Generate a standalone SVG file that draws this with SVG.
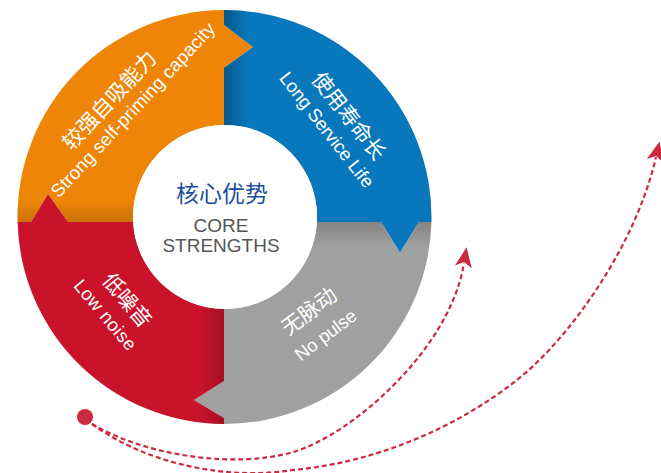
<svg xmlns="http://www.w3.org/2000/svg" width="661" height="473" viewBox="0 0 661 473">
  <defs>
    <style>
      .cn { font-family: "Noto Sans CJK SC", sans-serif; font-size: 21px; fill: #ffffff; text-anchor: middle; dominant-baseline: central; }
      .en { font-family: "Liberation Sans", Arial, sans-serif; font-size: 18.5px; fill: #ffffff; text-anchor: middle; }
      .core-en { font-family: "Liberation Sans", Arial, sans-serif; font-size: 19px; fill: #555555; text-anchor: middle; }
      .flow { fill: none; stroke: #CC2A3E; stroke-width: 2.2; stroke-dasharray: 5 3; marker-end: url(#arrow); }
    </style>
    <linearGradient id="sh-blue" gradientUnits="userSpaceOnUse" x1="224" y1="0" x2="248" y2="0">
      <stop offset="0" stop-color="#000" stop-opacity="0.25"/>
      <stop offset="1" stop-color="#000" stop-opacity="0"/>
    </linearGradient>
    <linearGradient id="sh-gray" gradientUnits="userSpaceOnUse" x1="0" y1="222" x2="0" y2="246">
      <stop offset="0" stop-color="#000" stop-opacity="0.18"/>
      <stop offset="1" stop-color="#000" stop-opacity="0"/>
    </linearGradient>
    <linearGradient id="sh-red" gradientUnits="userSpaceOnUse" x1="224" y1="0" x2="200" y2="0">
      <stop offset="0" stop-color="#000" stop-opacity="0.18"/>
      <stop offset="1" stop-color="#000" stop-opacity="0"/>
    </linearGradient>
    <linearGradient id="sh-orange" gradientUnits="userSpaceOnUse" x1="0" y1="222" x2="0" y2="200">
      <stop offset="0" stop-color="#5a2a00" stop-opacity="0.22"/>
      <stop offset="1" stop-color="#5a2a00" stop-opacity="0"/>
    </linearGradient>
    <marker id="arrow" markerUnits="userSpaceOnUse" viewBox="0 -10 24 20" markerWidth="24" markerHeight="20" refX="4" refY="0" orient="auto">
      <path d="M0,-8.5 L20,0 L0,8.5 L5,0 Z" fill="#CC2A3E"/>
    </marker>
  </defs>

  <g id="segment-orange">
    <path d="M17.56,222 A207,207 0 0 1 224,10 L224,25 L253,47 L224,68 L224,125 A92,92 0 0 0 133.14,222 L68,222 L48,194 L31,222 Z" fill="#EE8506"/>
    <path d="M17.56,222 A207,207 0 0 1 224,10 L224,25 L253,47 L224,68 L224,125 A92,92 0 0 0 133.14,222 L68,222 L48,194 L31,222 Z" fill="url(#sh-orange)"/>
    <text class="cn" transform="translate(108.3,99.2) rotate(-47)">较强自吸能力</text>
    <text class="en" transform="translate(133.8,110.8) rotate(-47)" y="5" textLength="231">Strong self-priming capacity</text>
  </g>

  <g id="segment-blue">
    <path d="M224,10 A207,207 0 0 1 431.44,222 L419,222 L400,253 L381,222 L316.86,222 A92,92 0 0 0 224,125 L224,68 L253,47 L224,25 Z" fill="#0877BB"/>
    <path d="M224,10 A207,207 0 0 1 431.44,222 L419,222 L400,253 L381,222 L316.86,222 A92,92 0 0 0 224,125 L224,68 L253,47 L224,25 Z" fill="url(#sh-blue)"/>
    <text class="cn" transform="translate(350,115) rotate(52)">使用寿命长</text>
    <text class="en" transform="translate(325.8,130.8) rotate(52)" y="5" textLength="141">Long Service Life</text>
  </g>

  <g id="segment-gray">
    <path d="M431.44,222 A207,207 0 0 1 224,424 L224,418 L194,400 L224,381 L224,309 A92,92 0 0 0 316.86,222 L381,222 L400,253 L419,222 Z" fill="#A0A0A0"/>
    <path d="M431.44,222 A207,207 0 0 1 224,424 L224,418 L194,400 L224,381 L224,309 A92,92 0 0 0 316.86,222 L381,222 L400,253 L419,222 Z" fill="url(#sh-gray)"/>
    <text class="cn" transform="translate(308.3,310) rotate(-37)">无脉动</text>
    <text class="en" transform="translate(326.5,336) rotate(-37)" y="5" textLength="72">No pulse</text>
  </g>

  <g id="segment-red">
    <path d="M224,424 A207,207 0 0 1 17.56,222 L31,222 L48,194 L68,222 L133.14,222 A92,92 0 0 0 224,309 L224,381 L194,400 L224,418 Z" fill="#C8132B"/>
    <path d="M224,424 A207,207 0 0 1 17.56,222 L31,222 L48,194 L68,222 L133.14,222 A92,92 0 0 0 224,309 L224,381 L194,400 L224,418 Z" fill="url(#sh-red)"/>
    <text class="cn" transform="translate(128.3,299.2) rotate(50)">低噪音</text>
    <text class="en" transform="translate(104.2,315.8) rotate(50)" y="5" textLength="86">Low noise</text>
  </g>

  <g id="core">
    <circle cx="225" cy="217" r="92" fill="#ffffff"/>
    <text x="222" y="192" font-family="'Noto Sans CJK SC', sans-serif" font-size="23" fill="#1B4F9E" text-anchor="middle" dominant-baseline="central">核心优势</text>
    <text class="core-en" x="221" y="232">CORE</text>
    <text class="core-en" x="221" y="252">STRENGTHS</text>
  </g>

  <g id="connectors">
    <circle cx="85" cy="417" r="8" fill="#CC2A3E"/>
    <path class="flow" d="M92,424 C150,458 240,468 293,452 C350,436 450,350 464,263"/>
    <path class="flow" d="M92,424 C150,466 230,480 293,470 C380,462 460,425 517,380 C570,338 636,245 656,157"/>
  </g>
</svg>
